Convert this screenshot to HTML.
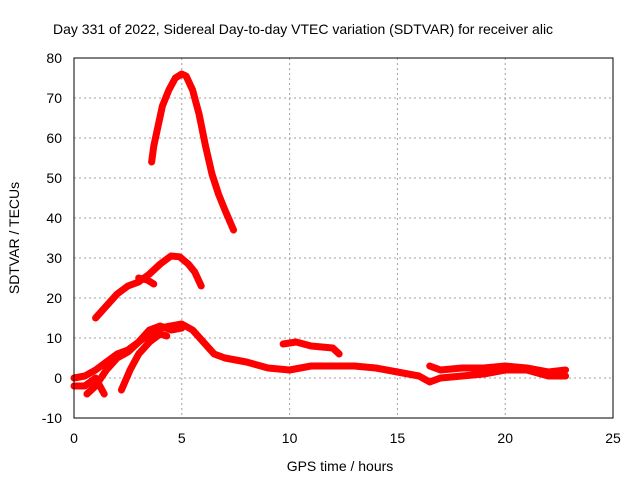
<!DOCTYPE html>
<html><head><meta charset="utf-8"><style>
body{margin:0;background:#fff}
svg text{font-family:"Liberation Sans",sans-serif;font-size:14px;fill:#000}
</style></head><body>
<svg id="chart" width="640" height="480" viewBox="0 0 640 480" xmlns="http://www.w3.org/2000/svg">
<text x="53" y="34">Day 331 of 2022, Sidereal Day-to-day VTEC variation (SDTVAR) for receiver alic</text>
<text x="340" y="471" text-anchor="middle">GPS time / hours</text>
<text transform="translate(19,238) rotate(-90)" text-anchor="middle">SDTVAR / TECUs</text>
<g id="grid"></g><g id="axes"></g><g id="series"></g>
<rect x="74" y="58" width="539" height="360" fill="none" stroke="#000" stroke-width="1"/>
</svg>
<script>
const xTicks=[0,5,10,15,20,25];
const yTicks=[-10,0,10,20,30,40,50,60,70,80];
const seriesPeak=[[3.6,54],[3.7,58],[3.9,63],[4.1,68],[4.4,72],[4.7,75],[5.0,76],[5.2,75.5],[5.5,72],[5.8,66],[6.1,58],[6.4,51],[6.7,46],[7.0,42],[7.4,37]];
const seriesMid=[[1.0,15],[1.5,18],[2.0,21],[2.5,23],[3.0,24],[3.5,26],[4.0,28.5],[4.5,30.5],[4.9,30.3],[5.3,28.5],[5.6,26.5],[5.9,23]];
const seriesMidBranch=[[3.0,25],[3.4,24.5],[3.7,23.5]];
const seriesMain=[[0,0],[0.5,0.5],[1.0,2],[1.5,4],[2.0,6],[2.5,7],[3.0,9],[3.5,11],[4.0,12.5],[4.5,13],[5.0,13.5],[5.5,12],[6.0,9],[6.5,6],[7.0,5],[8.0,4],[9.0,2.5],[10,2],[11,3],[12,3],[13,3],[14,2.5],[15,1.5],[16,0.5],[16.5,-1],[17,0],[18,0.5],[19,1],[20,2],[21,2],[22,0.5],[22.8,0.5]];
const seriesSpur=[[9.7,8.5],[10.3,9],[11,8],[12,7.5],[12.3,6]];
const seriesLowA=[[0.6,-4],[1,-2],[1.5,2],[2,5],[2.5,6.5],[3,9],[3.5,12],[4,13],[4.5,12],[5,12.5]];
const seriesLowB=[[2.2,-3],[2.6,2],[3,6],[3.5,9],[4,11],[4.3,10.5]];
const seriesLowC=[[0,-2],[0.5,-2],[1,0],[1.4,-4]];
const seriesLate=[[16.5,3],[17,2],[18,2.5],[19,2.5],[20,3],[21,2.5],[22,1.5],[22.8,2]];
const allSeries=[seriesPeak,seriesMid,seriesMidBranch,seriesMain,seriesSpur,seriesLowA,seriesLowB,seriesLowC,seriesLate];
const sx=v=>74+v*539/25, sy=v=>418-(v+10)*4;
const NS="http://www.w3.org/2000/svg";
const grid=document.getElementById('grid'),axes=document.getElementById('axes'),ser=document.getElementById('series');
function mk(tag,attrs,parent){const e=document.createElementNS(NS,tag);for(const k in attrs)e.setAttribute(k,attrs[k]);parent.appendChild(e);return e;}
xTicks.forEach(t=>{
 if(t>0&&t<25){const g=mk('line',{x1:sx(t),x2:sx(t),y1:58,y2:418,stroke:'#a0a0a0','stroke-dasharray':'2,3'},grid);
 
 }
 const l=mk('text',{x:sx(t),y:443,'text-anchor':'middle'},axes);l.textContent=t;
 
 
});
yTicks.forEach(t=>{
 if(t>-10&&t<80){const g=mk('line',{x1:74,x2:613,y1:sy(t),y2:sy(t),stroke:'#a0a0a0','stroke-dasharray':'2,3'},grid);
 
 }
 const l=mk('text',{x:62,y:sy(t)+5,'text-anchor':'end'},axes);l.textContent=t;
 
 
});
allSeries.forEach(s=>{
 const p=mk('polyline',{points:s.map(d=>sx(d[0])+','+sy(d[1])).join(' '),fill:'none',stroke:'#ff0000','stroke-width':7,'stroke-linejoin':'round','stroke-linecap':'round'},ser);
 
 
});
</script>
</body></html>
